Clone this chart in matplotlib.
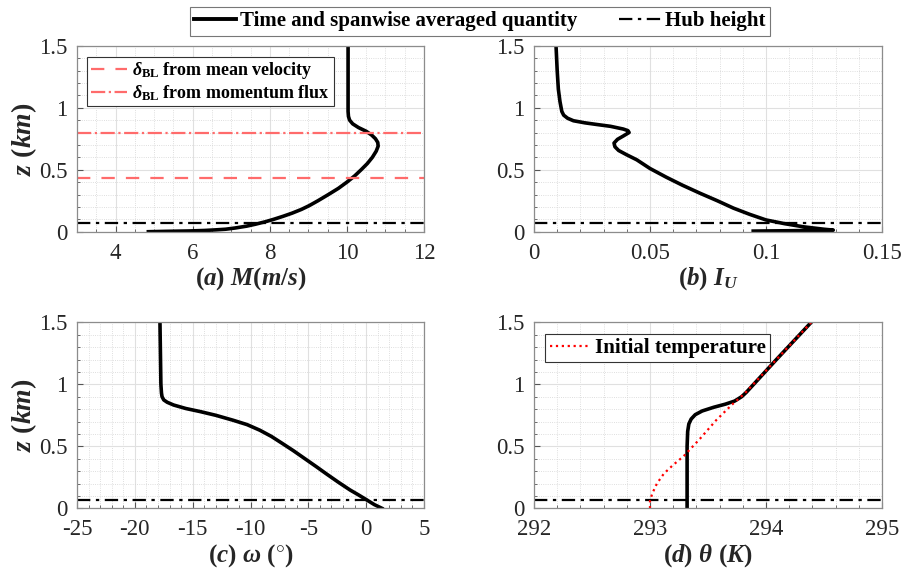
import numpy as np
import matplotlib
matplotlib.use('Agg')
import matplotlib.pyplot as plt
from matplotlib.ticker import MultipleLocator
from matplotlib.lines import Line2D

plt.rcParams['font.family'] = ['Liberation Serif', 'DejaVu Serif']
plt.rcParams['mathtext.fontset'] = 'custom'
plt.rcParams['mathtext.rm'] = 'Liberation Serif:bold'
plt.rcParams['mathtext.it'] = 'Liberation Serif:italic:bold'
plt.rcParams['mathtext.bf'] = 'Liberation Serif:bold'

# (a) mean velocity magnitude
z_M = [0.0, 0.003, 0.006, 0.01, 0.015, 0.02, 0.03, 0.045, 0.06, 0.08, 0.1, 0.125, 0.15,
       0.18, 0.21, 0.25, 0.3, 0.35, 0.4, 0.45, 0.5, 0.55, 0.6, 0.65, 0.69, 0.72, 0.75,
       0.78, 0.81, 0.84, 0.87, 0.9, 0.93, 0.97, 1.0, 1.5]
M = [4.85, 5.3, 5.9, 6.3, 6.6, 6.85, 7.1, 7.4, 7.62, 7.88, 8.1, 8.35, 8.58,
     8.82, 9.02, 9.25, 9.52, 9.78, 10.0, 10.2, 10.37, 10.53, 10.66, 10.76, 10.81, 10.8, 10.74,
     10.64, 10.5, 10.3, 10.15, 10.07, 10.04, 10.03, 10.03, 10.03]
delta_mean = 0.43
delta_flux = 0.80

# (b) turbulence intensity
I_U = [0.0945, 0.11, 0.129, 0.125, 0.116, 0.108, 0.1, 0.093, 0.086, 0.079, 0.0716, 0.064,
       0.057, 0.05, 0.0443, 0.04, 0.0365, 0.0349, 0.0345, 0.036, 0.0385, 0.041, 0.0405,
       0.0385, 0.033, 0.027, 0.022, 0.017, 0.0145, 0.0128, 0.012, 0.0112, 0.0105, 0.010, 0.0095]
z_I = [0.005, 0.008, 0.013, 0.02, 0.04, 0.065, 0.095, 0.14, 0.19, 0.25, 0.31, 0.375,
       0.44, 0.51, 0.58, 0.62, 0.655, 0.685, 0.715, 0.745, 0.772, 0.80, 0.815,
       0.828, 0.85, 0.865, 0.878, 0.895, 0.915, 0.94, 0.97, 1.05, 1.15, 1.3, 1.5]

# (c) wind direction
omega = [1.36, 0.7, 0.06, -0.7, -1.4, -2.4, -3.4, -4.3, -5.3, -6.3, -7.2, -8.2, -9.2,
         -10.3, -11.5, -13.0, -14.35, -15.6, -16.65, -17.2, -17.5, -17.65, -17.7, -17.75, -17.83]
z_w = [0.0, 0.03, 0.067, 0.11, 0.148, 0.21, 0.275, 0.335, 0.4, 0.465, 0.52, 0.58, 0.63,
       0.675, 0.71, 0.75, 0.78, 0.805, 0.833, 0.855, 0.874, 0.9, 0.93, 1.0, 1.5]

# (d) potential temperature
theta = [293.32, 293.32, 293.325, 293.335, 293.355, 293.39, 293.45, 293.55, 293.65,
         293.73, 293.79, 293.83, 294.1, 294.39]
z_T = [0.0, 0.5, 0.62, 0.68, 0.72, 0.755, 0.785, 0.815, 0.84, 0.865, 0.9, 0.935, 1.21, 1.5]
theta0 = [293.0, 293.0, 293.02, 293.06, 293.12, 293.2, 293.29, 293.43, 293.57, 293.7,
          293.82, 294.1, 294.39]
z_T0 = [0.0, 0.06, 0.12, 0.2, 0.28, 0.35, 0.42, 0.56, 0.71, 0.83, 0.93, 1.21, 1.5]

hub = 0.07

fig = plt.figure(figsize=(9.02, 5.73), dpi=100)
ax_a = fig.add_axes([0.0854, 0.5956, 0.3847, 0.3246])
ax_b = fig.add_axes([0.5920, 0.5956, 0.3858, 0.3246])
ax_c = fig.add_axes([0.0854, 0.1129, 0.3847, 0.3246])
ax_d = fig.add_axes([0.5920, 0.1129, 0.3858, 0.3246])

settings = [
    (ax_a, (3, 12), [4, 6, 8, 10, 12], 0.5, r'$(a)\ M(m/s)$'),
    (ax_b, (0, 0.15), [0, 0.05, 0.1, 0.15], 0.01, r'$(b)\ I_U$'),
    (ax_c, (-25, 5), [-25, -20, -15, -10, -5, 0, 5], 1, r'$(c)\ \omega\ (^{\circ})$'),
    (ax_d, (292, 295), [292, 293, 294, 295], 0.2, r'$(d)\ \theta\ (K)$'),
]
for ax, xl, ticks, mnr, lab in settings:
    ax.set_xlim(xl)
    ax.set_ylim(0, 1.5)
    ax.set_xticks(ticks)
    ax.set_xticklabels([f'{t:g}' for t in ticks])
    ax.xaxis.set_minor_locator(MultipleLocator(mnr))
    ax.set_yticks([0, 0.5, 1, 1.5])
    ax.set_yticklabels(['0', '0.5', '1', '1.5'])
    ax.yaxis.set_minor_locator(MultipleLocator(0.1))
    ax.grid(which='major', color='#e0e0e0', lw=0.8, ls='-')
    ax.grid(which='minor', color='#d4d4d4', lw=0.6, ls=':')
    ax.set_axisbelow(True)
    ax.tick_params(which='both', direction='in', colors='#555555', labelcolor='#262626',
                   labelsize=16.5, top=False, right=False)
    ax.tick_params(axis='x', which='major', length=4, pad=8)
    ax.tick_params(axis='y', which='major', length=4, pad=7)
    ax.tick_params(which='minor', length=2)
    for s in ax.spines.values():
        s.set_color('#8c8c8c')
        s.set_linewidth(0.9)
    ax.set_xlabel(lab, fontsize=18, labelpad=1, color='#262626')
    ax.axhline(hub, color='k', ls=(0, (6, 2.5, 1.5, 2.5)), lw=1.6)

for ax in (ax_a, ax_c):
    ax.set_ylabel(r'$z\ (km)$', fontsize=20, labelpad=0, color='#262626')

ax_a.plot(M, z_M, color='k', lw=2.6, solid_joinstyle='round')
l1, = ax_a.plot([3, 12], [delta_mean, delta_mean], color='#ff6b6b', ls=(0, (6, 5)), lw=1.6,
                label=r'$\delta_{\mathrm{BL}}$ from mean velocity')
l2, = ax_a.plot([3, 12], [delta_flux, delta_flux], color='#ff6b6b', ls='-.', lw=1.6,
                label=r'$\delta_{\mathrm{BL}}$ from momentum flux')
leg_a = ax_a.legend(handles=[l1, l2], loc='upper left', bbox_to_anchor=(0.003, 0.99),
                    prop={'family': 'Liberation Serif', 'weight': 'bold', 'size': 13},
                    handlelength=2.0, handletextpad=0.3, borderpad=0.2, labelspacing=0.1,
                    fancybox=False, edgecolor='#333333', framealpha=1)
leg_a.get_frame().set_linewidth(0.8)

ax_b.plot(I_U, z_I, color='k', lw=2.6, solid_joinstyle='round')
ax_c.plot(omega, z_w, color='k', lw=2.6, solid_joinstyle='round')

ax_d.plot(theta, z_T, color='k', lw=2.6, solid_joinstyle='round')
l3, = ax_d.plot(theta0, z_T0, color='red', ls=':', lw=1.6, label='Initial temperature')
leg_d = ax_d.legend(handles=[l3], loc='upper left', bbox_to_anchor=(0.003, 0.995),
                    prop={'family': 'Liberation Serif', 'weight': 'bold', 'size': 15},
                    handlelength=2.0, handletextpad=0.2, borderpad=0.2,
                    fancybox=False, edgecolor='#333333', framealpha=1)
leg_d.get_frame().set_linewidth(0.8)

handles = [Line2D([], [], color='k', lw=2.8),
           Line2D([], [], color='k', ls=(0, (6, 2.5, 1.5, 2.5)), lw=1.6)]
leg = fig.legend(handles, ['Time and spanwise averaged quantity', 'Hub height'],
                 loc='center', bbox_to_anchor=(0.532, 0.9625), ncol=2,
                 prop={'family': 'Liberation Serif', 'weight': 'bold', 'size': 15},
                 handlelength=2.0, handletextpad=0.2, columnspacing=2.0, borderpad=0.2,
                 fancybox=False, edgecolor='#777777', framealpha=1)
leg.get_frame().set_linewidth(0.8)

fig.savefig('out.png', dpi=100)
